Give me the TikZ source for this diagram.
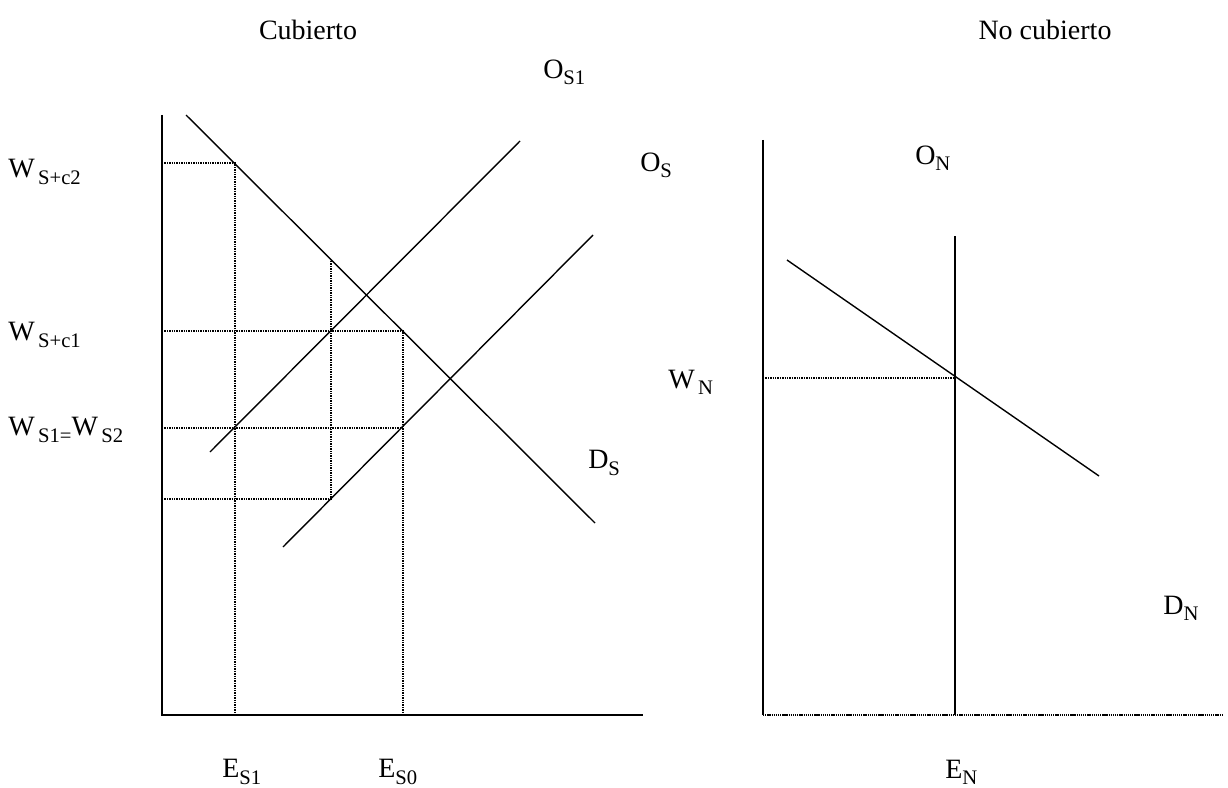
\documentclass[tikz,border=0pt]{standalone}
\usepackage{fontspec}
\setmainfont{Liberation Serif}
\newcommand{\lb}[2]{#1\raisebox{-0.22em}{\fontsize{15.5}{15.5}\selectfont #2}}
\begin{document}
\begin{tikzpicture}[x=0.75pt,y=-0.75pt,
  axisline/.style={line width=1.5pt},
  curve/.style={line width=1.05pt},
  guide/.style={line width=0.9pt, dash pattern=on 1pt off 0.8pt},
  lab/.style={anchor=west, inner sep=0pt, font=\fontsize{21}{21}\selectfont},
  ttl/.style={inner sep=0pt, font=\fontsize{21}{21}\selectfont}]
\useasboundingbox (0,0) rectangle (1228,788);
% ---------- left panel ----------
\coordinate (yA) at (162,115);
\coordinate (oA) at (162,715);
\coordinate (xA) at (643,715);
\draw[axisline] (yA) -- (oA) -- (xA);
\coordinate (d1) at (186,115);
\coordinate (d2) at (595,523);
\coordinate (s1a) at (210,452);
\coordinate (s1b) at (520,141);
\coordinate (s0a) at (283,547);
\coordinate (s0b) at (593,235);
\draw[curve] (d1) -- (d2);
\draw[curve] (s1a) -- (s1b);
\draw[curve] (s0a) -- (s0b);
\coordinate (p1) at (235,163);
\coordinate (p2) at (403,331);
\coordinate (p3) at (331,260);
\coordinate (p4) at (331,499);
\coordinate (p5) at (403,428);
\draw[guide] (162,163) -- (p1) -- (235,715);
\draw[guide] (162,331) -- (p2) -- (403,715);
\draw[guide] (162,428) -- (p5);
\draw[guide] (162,499) -- (p4) -- (p3);
% ---------- right panel ----------
\coordinate (yB) at (763,140);
\coordinate (oB) at (763,715);
\coordinate (xB) at (1222,715);
\draw[axisline] (yB) -- (oB);
\draw[line width=1.4pt, dash pattern=on 1pt off 0.6pt] (oB) -- (xB);
\coordinate (n1) at (955,236);
\coordinate (n2) at (955,715);
\draw[curve] (n1) -- (n2);
\coordinate (m1) at (787,260);
\coordinate (m2) at (1099,476);
\draw[curve] (m1) -- (m2);
\coordinate (q1) at (955,378);
\draw[guide] (763,378) -- (q1);
% ---------- labels ----------
\node[ttl] (t1) at (308,30) {Cubierto};
\node[ttl] (t2) at (1045,30) {No cubierto};
\node[lab] (lOS1) at (543,72) {\lb{O}{S1}};
\node[lab] (lOS) at (640,165) {\lb{O}{S}};
\node[lab] (lW2) at (8,172) {\lb{W}{\,S+c2}};
\node[lab] (lW1) at (8,335) {\lb{W}{\,S+c1}};
\node[lab] (lW0) at (8,430) {\lb{W}{\,S1=}\lb{W}{\,S2}};
\node[lab] (lDS) at (588,463) {\lb{D}{S}};
\node[lab] (lWN) at (668,382) {\lb{W}{\,N}};
\node[lab] (lON) at (915,158) {\lb{O}{N}};
\node[lab] (lDN) at (1163,608) {\lb{D}{N}};
\node[lab] (lE1) at (222,772) {\lb{E}{S1}};
\node[lab] (lE0) at (378,772) {\lb{E}{S0}};
\node[lab] (lEN) at (945,772) {\lb{E}{N}};
\end{tikzpicture}
\end{document}
